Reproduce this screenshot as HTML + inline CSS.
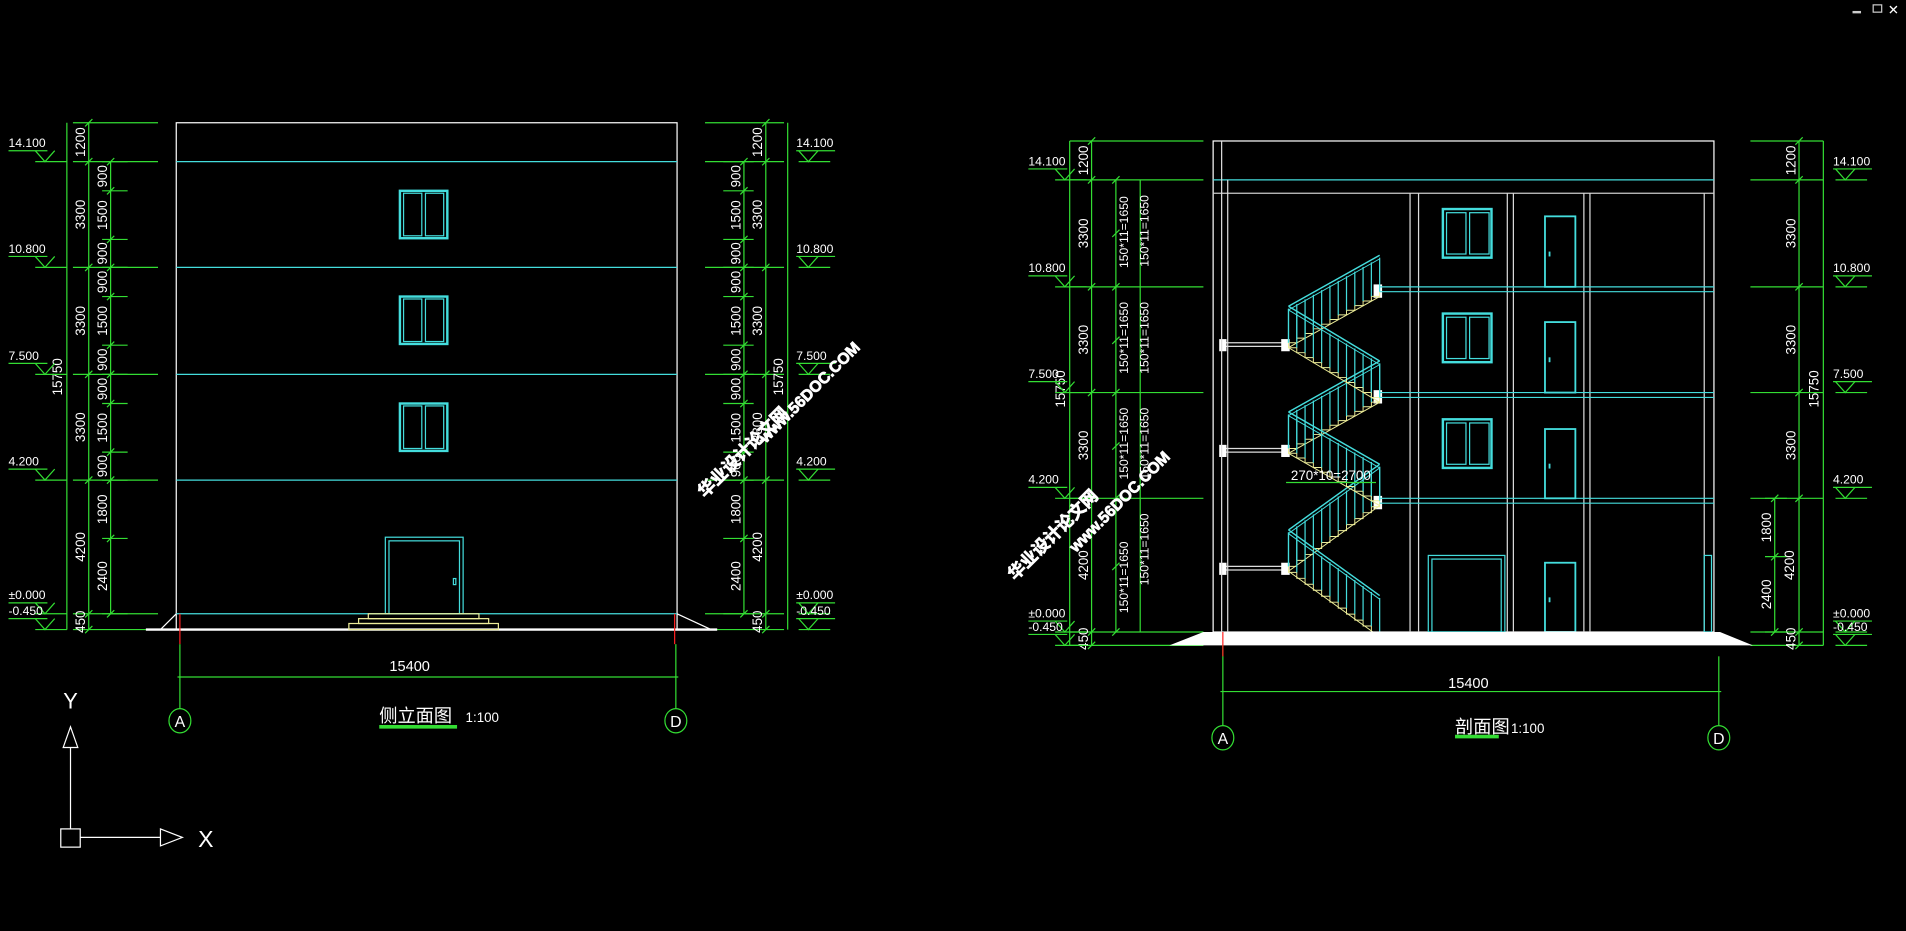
<!DOCTYPE html>
<html><head><meta charset="utf-8"><style>
html,body{margin:0;padding:0;background:#000;overflow:hidden}
svg{display:block}
text{font-family:"Liberation Sans Narrow","Liberation Sans","Noto Sans CJK SC",sans-serif;fill:#fff}
</style></head><body>
<svg id="s" width="1906" height="931" viewBox="0 0 1568 766" preserveAspectRatio="none" xmlns="http://www.w3.org/2000/svg">
<rect width="1568" height="766" fill="#000"/>
<!-- top right icons -->
<rect x="1524" y="9" width="7" height="2" fill="#ccc"/>
<rect x="1541" y="4" width="7" height="6" fill="none" stroke="#ccc"/>
<text x="1553" y="12" font-size="11">✕</text>

<g id="g"></g>

<!-- LEFT ELEVATION -->
<g fill="none" stroke-width="1">
<rect x="145" y="101" width="412" height="417" stroke="#fff"/>
<g stroke="#4dd">
<line x1="145" y1="133" x2="557" y2="133"/><line x1="145" y1="220" x2="557" y2="220"/>
<line x1="145" y1="308" x2="557" y2="308"/><line x1="145" y1="395" x2="557" y2="395"/>
<line x1="145" y1="505" x2="557" y2="505"/>
<rect x="317" y="442" width="64" height="63"/><rect x="320" y="445" width="58" height="60"/>
<rect x="373" y="476" width="2" height="5"/>
</g>
<line x1="120" y1="518" x2="590" y2="518" stroke="#fff" stroke-width="2"/>
<line x1="132" y1="518" x2="145" y2="505" stroke="#fff"/><line x1="557" y1="505" x2="585" y2="518" stroke="#fff"/>
<g stroke="#ee9"><rect x="303" y="505" width="91" height="4"/><rect x="295" y="509" width="107" height="4"/><rect x="287" y="513" width="123" height="5"/></g>
<line x1="148" y1="505" x2="148" y2="530" stroke="#f22"/><line x1="555" y1="505" x2="555" y2="530" stroke="#f22"/>
<g stroke="#3d3"><line x1="148" y1="530" x2="148" y2="583"/><line x1="556" y1="530" x2="556" y2="583"/>
<line x1="146" y1="557" x2="558" y2="557"/>
<ellipse cx="148" cy="593" rx="9" ry="10"/><ellipse cx="556" cy="593" rx="9" ry="10"/></g>
<line x1="312" y1="598" x2="376" y2="598" stroke="#3d3" stroke-width="3"/>
</g>
<text x="337" y="552" font-size="12" text-anchor="middle">15400</text>
<text x="148" y="598" font-size="13" text-anchor="middle" font-family="Liberation Serif">A</text>
<text x="556" y="598" font-size="13" text-anchor="middle" font-family="Liberation Serif">D</text>
<text x="312" y="594" font-size="15" font-family="Noto Sans CJK SC">侧立面图</text>
<text x="383" y="594" font-size="11">1:100</text>

<!-- RIGHT SECTION -->
<g fill="none">
<rect x="998" y="116" width="412" height="404" stroke="#fff"/>
<line x1="998" y1="148" x2="1410" y2="148" stroke="#4dd"/>
<line x1="998" y1="159" x2="1410" y2="159" stroke="#ccc"/>
<g stroke="#ddd">
<line x1="1005" y1="116" x2="1005" y2="520"/><line x1="1010" y1="148" x2="1010" y2="520"/>
<line x1="1160" y1="159" x2="1160" y2="520"/><line x1="1167" y1="159" x2="1167" y2="520"/>
<line x1="1240" y1="159" x2="1240" y2="520"/><line x1="1245" y1="159" x2="1245" y2="520"/>
<line x1="1303" y1="159" x2="1303" y2="520"/><line x1="1308" y1="159" x2="1308" y2="520"/>
<line x1="1402" y1="159" x2="1402" y2="520"/>
</g>
<g stroke="#4dd">
<line x1="1135" y1="236" x2="1410" y2="236"/><line x1="1135" y1="240" x2="1410" y2="240"/>
<line x1="1135" y1="323" x2="1410" y2="323"/><line x1="1135" y1="327" x2="1410" y2="327"/>
<line x1="1135" y1="410" x2="1410" y2="410"/><line x1="1135" y1="414" x2="1410" y2="414"/>
<rect x="1175" y="457" width="63" height="63"/><rect x="1178" y="460" width="57" height="60"/>
<rect x="1402" y="457" width="6" height="63"/>
</g>
</g>
<polygon points="962,531 990,520 1415,520 1442,531" fill="#fff"/>
<g fill="none" stroke="#3d3"><line x1="1006" y1="531" x2="1006" y2="597"/><line x1="1414" y1="540" x2="1414" y2="597"/>
<line x1="1004" y1="569" x2="1416" y2="569"/>
<ellipse cx="1006" cy="607" rx="9" ry="10"/><ellipse cx="1414" cy="607" rx="9" ry="10"/></g>
<line x1="1006" y1="520" x2="1006" y2="540" stroke="#f22"/>
<line x1="1197" y1="606" x2="1233" y2="606" stroke="#3d3" stroke-width="3"/>
<text x="1208" y="566" font-size="12" text-anchor="middle">15400</text>
<text x="1006" y="612" font-size="13" text-anchor="middle" font-family="Liberation Serif">A</text>
<text x="1414" y="612" font-size="13" text-anchor="middle" font-family="Liberation Serif">D</text>
<text x="1197" y="603" font-size="15" font-family="Noto Sans CJK SC">剖面图</text>
<text x="1243" y="603" font-size="11">1:100</text>
<text x="1062" y="395" font-size="11">270*10=2700</text>
<line x1="1058" y1="397" x2="1132" y2="397" stroke="#3d3"/>

<!-- UCS -->
<g fill="none" stroke="#fff">
<line x1="58" y1="682" x2="58" y2="615"/><polygon points="52,615 58,598 64,615"/>
<rect x="50" y="682" width="16" height="15"/>
<line x1="66" y1="689" x2="132" y2="689"/><polygon points="132,682 150,689 132,696"/>
</g>
<text x="52" y="583" font-size="18">Y</text>
<text x="163" y="697" font-size="19">X</text>

<!-- watermarks -->
<g font-family="Noto Sans CJK SC" font-weight="bold">
<text transform="translate(580,410) rotate(-45)" font-size="14" fill="#f44" stroke="#fff" stroke-width="0.6">华业设计论文网</text>
<text transform="translate(630,365) rotate(-45)" font-size="13" fill="#f44" stroke="#fff" stroke-width="0.6">www.56DOC.COM</text>
<text transform="translate(835,478) rotate(-45)" font-size="14" fill="#f44" stroke="#fff" stroke-width="0.6">华业设计论文网</text>
<text transform="translate(885,455) rotate(-45)" font-size="13" fill="#f44" stroke="#fff" stroke-width="0.6">www.56DOC.COM</text>
</g>
</svg>
<script>
const NS="http://www.w3.org/2000/svg",g=document.getElementById('g');
function el(t,a,txt){const e=document.createElementNS(NS,t);for(const k in a)e.setAttribute(k,a[k]);if(txt)e.textContent=txt;g.appendChild(e);return e;}
function L(x1,y1,x2,y2,c,w){el('line',{x1,y1,x2,y2,stroke:c,'stroke-width':w||1});}
const G="#3d3",C="#4dd";
function vt(x,y,s,fs){el('text',{transform:`translate(${x},${y}) rotate(-90)`,'font-size':fs||11,'text-anchor':'middle'},s);}
function dimcol(x,ys,labels,ext1,ext2,side){ // side -1 text left
  L(x,ys[0],x,ys[ys.length-1],G);
  ys.forEach(y=>{L(ext1,y,ext2,y,G);L(x-3,y+3,x+3,y-3,G);});
  for(let i=0;i<labels.length;i++){if(labels[i])vt(x-3,(ys[i]+ys[i+1])/2,labels[i]);}
}
function level(x,y,t,dir){ // dir 1: text left side
  el('text',{x:x,y:y-12,'font-size':10},t);
  L(x,y-9,x+32,y-9,G);
  const tx=x+(dir>0?30:10);
  el('polyline',{points:`${tx-8},${y-9} ${tx},${y} ${tx+8},${y-9}`,fill:'none',stroke:G});
  L(tx-8,y,tx+18,y,G);
}
// left elevation dims
const LV=[101,133,220,308,395,505,518];
dimcol(73,LV,['1200','3300','3300','3300','4200','450'],60,130);
const D2=[133,157,197,220,244,284,308,332,372,395,443,505];
dimcol(91,D2,['900','1500','900','900','1500','900','900','1500','900','1800','2400'],84,105);
L(55,101,55,518,G);vt(51,310,'15750');
[[133,'14.100'],[220,'10.800'],[308,'7.500'],[395,'4.200'],[505,'±0.000'],[518,'-0.450']].forEach(([y,t])=>level(7,y,t,1));
// right side of elevation
dimcol(630,LV,['1200','3300','3300','3300','4200','450'],580,645);
dimcol(612,D2,['900','1500','900','900','1500','900','900','1500','900','1800','2400'],595,620);
L(648,101,648,518,G);vt(644,310,'15750');
[[133,'14.100'],[220,'10.800'],[308,'7.500'],[395,'4.200'],[505,'±0.000'],[518,'-0.450']].forEach(([y,t])=>level(655,y,t,-1));
// elevation windows
[157,244,332].forEach(y=>{el('rect',{x:329,y:y,width:39,height:39,fill:'none',stroke:C,'stroke-width':2});
 el('rect',{x:332,y:y+2,width:15,height:35,fill:'none',stroke:C});el('rect',{x:350,y:y+2,width:15,height:35,fill:'none',stroke:C});});
// section dims
const SV=[116,148,236,323,410,520,531];
dimcol(898,SV,['1200','3300','3300','3300','4200','450'],880,990);
L(880,116,880,531,G);vt(876,320,'15750');
[[148,'14.100'],[236,'10.800'],[323,'7.500'],[410,'4.200'],[520,'±0.000'],[531,'-0.450']].forEach(([y,t])=>level(846,y,t,1));
const S1=[148,192,236,280,323,367,410,466,520];
L(918,148,918,520,G);S1.forEach(y=>L(915,y+3,921,y-3,G));
[[192,''],[236,'150*11=1650'],[323,'150*11=1650'],[410,'150*11=1650'],[520,'150*11=1650']].forEach(([y,t])=>{if(t)vt(928,y-45,t,10);});
L(938,148,938,520,G);
[[148,'150*11=1650'],[236,'150*11=1650'],[323,'150*11=1650'],[410,'150*11=1650']].forEach(([y,t])=>vt(945,y+42,t,10));
dimcol(1480,SV,['1200','3300','3300','3300','','450'],1440,1500);
L(1500,116,1500,531,G);vt(1496,320,'15750');
dimcol(1460,[410,458,520],['1800','2400'],1452,1470);
vt(1476,465,'4200');
[[148,'14.100'],[236,'10.800'],[323,'7.500'],[410,'4.200'],[520,'±0.000'],[531,'-0.450']].forEach(([y,t])=>level(1508,y,t,-1));
// section windows & doors
[172,258,345].forEach(y=>{el('rect',{x:1187,y:y,width:40,height:40,fill:'none',stroke:C,'stroke-width':2});
 el('rect',{x:1190,y:y+3,width:16,height:34,fill:'none',stroke:C});el('rect',{x:1209,y:y+3,width:16,height:34,fill:'none',stroke:C});});
[[178,236],[265,323],[353,410],[463,520]].forEach(([a,b])=>{el('rect',{x:1271,y:a,width:25,height:b-a,fill:'none',stroke:C,'stroke-width':1.5});el('rect',{x:1274,y:a+(b-a)/2,width:1.5,height:4,fill:C});});
// landings
[282,369,466].forEach(y=>{L(1008,y,1060,y,'#ddd');L(1008,y+3,1060,y+3,'#ddd');
 el('rect',{x:1003,y:y-3,width:6,height:10,fill:'#fff'});el('rect',{x:1054,y:y-3,width:7,height:10,fill:'#fff'});});
[240,327,414].forEach(y=>el('rect',{x:1130,y:y-6,width:7,height:11,fill:'#fff'}));
// flights
function flight(x1,y1,x2,y2){
  const n=11;
  let p=[];for(let i=0;i<=n;i++){const x=x1+(x2-x1)*i/n,y=y1+(y2-y1)*i/n;p.push(`${x},${y}`);if(i<n)p.push(`${x+(x2-x1)/n},${y}`);}
  el('polyline',{points:p.join(' '),fill:'none',stroke:'#ee9','stroke-width':0.8});
  L(x1,y1+4,x2,y2+4,'#ee9',0.8);
  // railing
  L(x1,y1-30,x2,y2-30,C,1.2);L(x1,y1-27,x2,y2-27,C,0.8);
  for(let i=0;i<=n;i++){const x=x1+(x2-x1)*i/n,y=y1+(y2-y1)*i/n;L(x,y,x,y-28,C,1);}
}
flight(1060,466,1135,412);
flight(1135,520,1060,466);
flight(1060,369,1135,327);
flight(1135,412,1060,369);
flight(1060,282,1135,240);
flight(1135,327,1060,282);
</script>
</body></html>
